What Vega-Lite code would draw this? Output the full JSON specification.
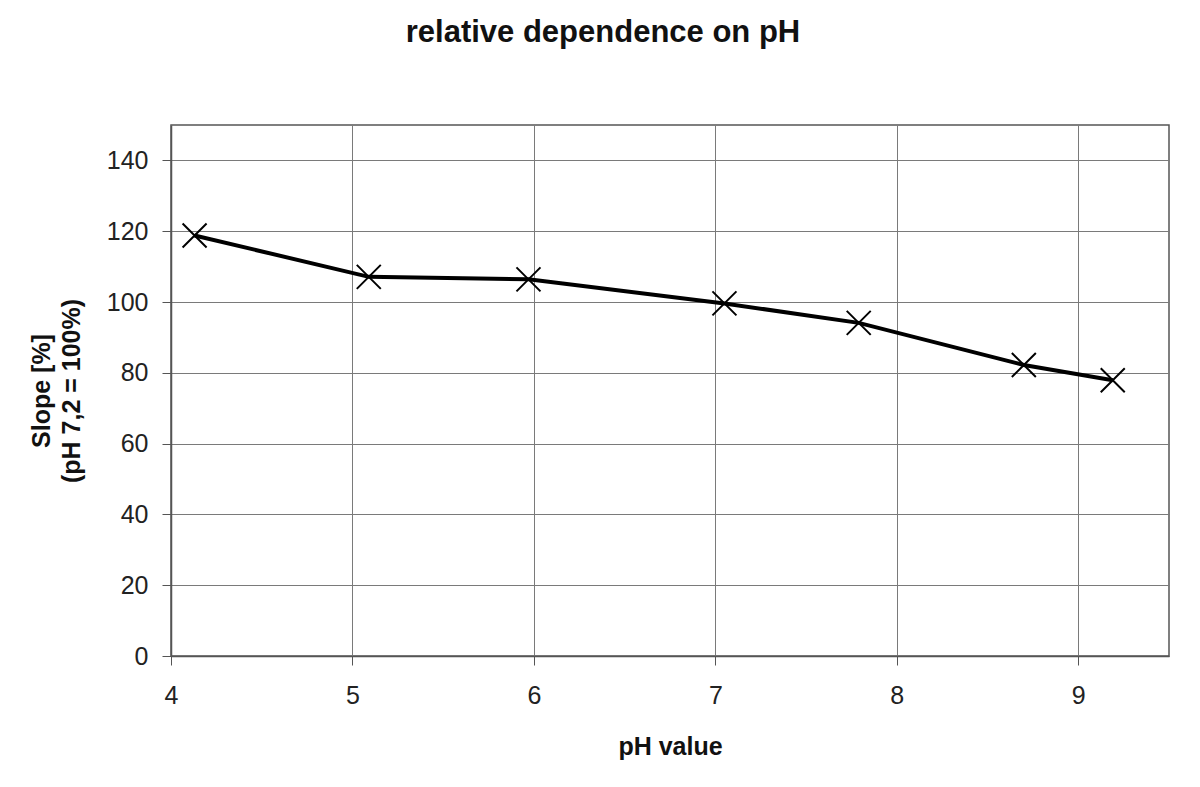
{
  "$schema": "https://vega.github.io/schema/vega-lite/v6.json",
  "width": 998,
  "height": 531,
  "autosize": {"type": "none"},
  "padding": {"left": 171, "top": 125, "right": 31, "bottom": 131},
  "background": "white",
  "title": {
    "text": "relative dependence on pH",
    "font": "Liberation Sans",
    "fontSize": 31,
    "fontWeight": "bold",
    "color": "#111111",
    "anchor": "middle",
    "offset": 76,
    "dx": -67
  },
  "config": {
    "view": {"stroke": "#555555", "strokeWidth": 1.5},
    "axis": {
      "labelFont": "Liberation Sans",
      "labelFontSize": 25,
      "labelColor": "#222222",
      "labelFlush": false,
      "titleFont": "Liberation Sans",
      "titleFontSize": 25,
      "titleFontWeight": "bold",
      "titleColor": "#111111",
      "gridColor": "#7a7a7a",
      "gridWidth": 1,
      "gridOpacity": 1,
      "tickColor": "#555555",
      "tickSize": 9,
      "domainColor": "#555555",
      "domainWidth": 1.5
    }
  },
  "data": {
    "values": [
      {"pH": 4.13, "slope": 118.8},
      {"pH": 5.09, "slope": 107.1},
      {"pH": 5.97, "slope": 106.4},
      {"pH": 7.05, "slope": 99.6},
      {"pH": 7.79, "slope": 94.1},
      {"pH": 8.70, "slope": 82.2},
      {"pH": 9.19, "slope": 77.9}
    ]
  },
  "encoding": {
    "x": {
      "field": "pH",
      "type": "quantitative",
      "scale": {"domain": [4, 9.5], "nice": false, "zero": false},
      "axis": {"values": [4, 5, 6, 7, 8, 9], "title": "pH value", "labelPadding": 18, "titlePadding": 26}
    },
    "y": {
      "field": "slope",
      "type": "quantitative",
      "scale": {"domain": [0, 150], "nice": false},
      "axis": {"values": [0, 20, 40, 60, 80, 100, 120, 140], "title": ["Slope [%]", "(pH 7,2 = 100%)"], "labelPadding": 14, "titlePadding": 22, "titleLineHeight": 30}
    }
  },
  "layer": [
    {"mark": {"type": "line", "color": "#000000", "strokeWidth": 4}},
    {"mark": {"type": "point", "shape": "M-1,-1L1,1M-1,1L1,-1", "size": 576, "filled": false, "color": "#000000", "strokeWidth": 2, "opacity": 1}}
  ]
}
